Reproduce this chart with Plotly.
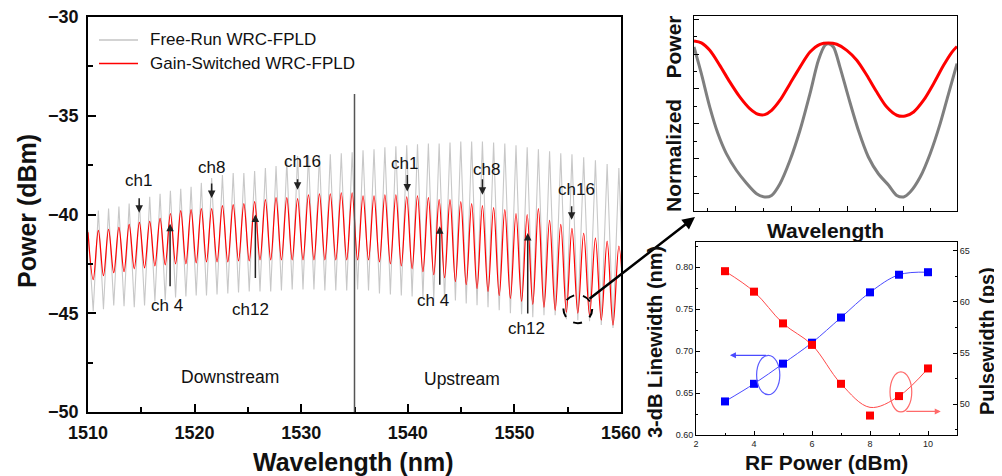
import plotly.graph_objects as go

# ---------------- main spectrum ----------------
mode_wl = [1510.97, 1511.93, 1512.90, 1513.86, 1514.82, 1515.79, 1516.76, 1517.73, 1518.70, 1519.67,
           1520.63, 1521.60, 1522.61, 1523.62, 1524.62, 1525.63, 1526.64, 1527.64, 1528.65, 1529.66,
           1530.68, 1531.71, 1532.73, 1533.76, 1534.78, 1535.80, 1536.83, 1537.85, 1538.88, 1539.90,
           1540.91, 1541.93, 1542.94, 1543.96, 1544.97, 1545.99, 1547.00, 1548.05, 1549.10, 1550.15,
           1551.20, 1552.25, 1553.30, 1554.35, 1555.40, 1556.50, 1557.60, 1558.70, 1559.80]

free_run_peak = [-39.8, -39.7, -39.6, -39.45, -39.3, -39.1, -38.95, -38.8, -38.7, -38.6,
                 -38.4, -38.15, -38.0, -37.9, -37.9, -37.8, -37.65, -37.55, -37.3, -37.05,
                 -37.0, -37.0, -36.95, -36.9, -36.85, -36.75, -36.7, -36.6, -36.55, -36.5,
                 -36.45, -36.4, -36.4, -36.35, -36.3, -36.3, -36.3, -36.35, -36.4, -36.5,
                 -36.6, -36.7, -36.8, -36.9, -36.95, -37.1, -37.25, -37.45, -37.65]
# valleys: before first mode, between modes, after last mode
free_run_valley = [-44.9, -44.8, -44.6, -44.65, -44.7, -44.6, -44.4, -44.35, -44.2, -44.15,
                   -44.1, -44.1, -44.05, -44.0, -43.95, -43.9, -43.9, -43.9, -43.85, -43.8,
                   -43.8, -43.8, -43.85, -43.85, -43.85, -43.8, -43.85, -44.0, -44.05, -44.1,
                   -44.15, -44.2, -44.3, -44.35, -44.35, -44.5, -44.6, -44.7, -44.85, -45.0,
                   -45.05, -45.2, -45.1, -45.1, -45.3, -45.35, -45.4, -45.6, -45.75, -45.8]

gain_sw_peak = [-40.8, -40.75, -40.65, -40.5, -40.4, -40.35, -40.2, -39.95, -39.8, -39.75,
                -39.7, -39.7, -39.55, -39.5, -39.45, -39.35, -39.25, -39.15, -39.15, -39.2,
                -39.0, -38.95, -38.95, -38.9, -38.9, -39.05, -39.05, -39.0, -39.0, -39.1,
                -39.05, -39.15, -39.25, -39.25, -39.35, -39.45, -39.55, -39.65, -39.75, -39.95,
                -40.0, -39.7, -40.3, -40.5, -40.7, -40.95, -41.2, -41.35, -41.6]
gain_sw_valley = [-43.3, -43.1, -42.95, -42.9, -42.75, -42.7, -42.6, -42.55, -42.5, -42.5,
                  -42.45, -42.4, -42.4, -42.4, -42.35, -42.35, -42.3, -42.3, -42.3, -42.3,
                  -42.3, -42.3, -42.3, -42.3, -42.3, -42.3, -42.3, -42.4, -42.5, -42.6,
                  -42.75, -42.9, -43.05, -43.2, -43.4, -43.55, -43.75, -43.9, -44.1, -44.25,
                  -44.4, -44.55, -44.7, -44.85, -44.95, -45.0, -45.1, -45.35, -45.6, -45.7]

edge_wl = 1510.0
free_run_edge = -40.8
gain_sw_edge = -40.9

divider_wl = 1535.0
divider_top = -33.9

# ---------------- inset: normalized power vs wavelength ----------------
inset_free_x = [0, 0.028, 0.060, 0.091, 0.123, 0.161, 0.199, 0.238, 0.269, 0.295, 0.327, 0.365,
                0.403, 0.441, 0.473, 0.498, 0.511, 0.530, 0.555, 0.587, 0.625, 0.663, 0.701,
                0.740, 0.771, 0.797, 0.822, 0.860, 0.898, 0.936, 0.968, 1.0]
inset_free_y = [0.841, 0.704, 0.533, 0.397, 0.294, 0.209, 0.144, 0.089, 0.072, 0.080, 0.140, 0.260,
                0.414, 0.602, 0.773, 0.850, 0.858, 0.841, 0.738, 0.585, 0.414, 0.277, 0.191,
                0.132, 0.080, 0.072, 0.097, 0.174, 0.294, 0.448, 0.602, 0.756]
inset_gs_x = [0, 0.028, 0.060, 0.098, 0.136, 0.174, 0.212, 0.244, 0.269, 0.295, 0.327, 0.365,
              0.403, 0.441, 0.479, 0.511, 0.543, 0.581, 0.619, 0.657, 0.695, 0.733, 0.771,
              0.803, 0.835, 0.873, 0.911, 0.949, 0.981, 1.0]
inset_gs_y = [0.872, 0.862, 0.824, 0.747, 0.662, 0.585, 0.525, 0.496, 0.494, 0.516, 0.568, 0.653,
              0.738, 0.815, 0.855, 0.862, 0.855, 0.824, 0.773, 0.696, 0.610, 0.533, 0.491,
              0.487, 0.508, 0.568, 0.653, 0.747, 0.815, 0.844]

# ---------------- inset: RF power dependence ----------------
rf_power = [3, 4, 5, 6, 7, 8, 9, 10]
linewidth_nm = [0.640, 0.661, 0.685, 0.710, 0.740, 0.770, 0.791, 0.794]
pulsewidth_ps = [63.0, 61.0, 57.9, 55.8, 52.0, 48.9, 50.8, 53.5]
pulsewidth_fit = [63.0, 61.0, 57.9, 55.8, 52.0, 49.7, 50.8, 53.5]

main_xticks = [1510, 1520, 1530, 1540, 1550, 1560]
main_yticks = [-50, -45, -40, -35, -30]


def build_path(peaks, valleys, edge):
    xs = [edge_wl, mode_wl[0] - (mode_wl[1] - mode_wl[0]) / 2]
    ys = [edge, valleys[0]]
    n = len(mode_wl)
    for i in range(n):
        xs.append(mode_wl[i])
        ys.append(peaks[i])
        if i < n - 1:
            xs.append((mode_wl[i] + mode_wl[i + 1]) / 2)
        else:
            xs.append(mode_wl[i] + (mode_wl[i] - mode_wl[i - 1]) / 2)
        ys.append(valleys[i + 1])
    return xs, ys


FONT = "Liberation Sans, Arial, sans-serif"
# the page body adds an 8px margin, so the figure is 8px smaller and shifted
OFF = 8
W, H = 1002 - OFF, 476 - OFF


def px(x):
    return (x - OFF) / W


def py(y):
    return 1 - (y - OFF) / H


fig = go.Figure()

fx, fy = build_path(free_run_peak, free_run_valley, free_run_edge)
gx, gy = build_path(gain_sw_peak, gain_sw_valley, gain_sw_edge)

fig.add_trace(go.Scatter(x=fx, y=fy, mode="lines", name="Free-Run WRC-FPLD",
                         line=dict(color="#c8c8c8", width=1.1), xaxis="x", yaxis="y",
                         showlegend=False))
fig.add_trace(go.Scatter(x=gx, y=gy, mode="lines", name="Gain-Switched WRC-FPLD",
                         line=dict(color="#ff0000", width=1.2, shape="spline", smoothing=1),
                         xaxis="x", yaxis="y", showlegend=False))

# top-right inset
fig.add_trace(go.Scatter(x=inset_free_x, y=inset_free_y, mode="lines",
                         line=dict(color="#7f7f7f", width=3, shape="spline", smoothing=0.8),
                         xaxis="x2", yaxis="y2", showlegend=False))
fig.add_trace(go.Scatter(x=inset_gs_x, y=inset_gs_y, mode="lines",
                         line=dict(color="#ff0000", width=3, shape="spline", smoothing=0.8),
                         xaxis="x2", yaxis="y2", showlegend=False))

# bottom-right inset
fig.add_trace(go.Scatter(x=rf_power, y=linewidth_nm, mode="lines+markers",
                         line=dict(color="#4a4aff", width=1, shape="spline"),
                         marker=dict(symbol="square", size=8, color="#0000ff"),
                         xaxis="x3", yaxis="y3", showlegend=False))
fig.add_trace(go.Scatter(x=rf_power, y=pulsewidth_fit, mode="lines",
                         line=dict(color="#ff4a4a", width=1, shape="spline"),
                         xaxis="x3", yaxis="y4", showlegend=False))
fig.add_trace(go.Scatter(x=rf_power, y=pulsewidth_ps, mode="markers",
                         marker=dict(symbol="square", size=8, color="#ff0000"),
                         xaxis="x3", yaxis="y4", showlegend=False))

axis_common = dict(showgrid=False, zeroline=False, showline=True, linecolor="black",
                   mirror=True, ticks="inside", tickcolor="black", automargin=False,
                   ticklabeloverflow="allow")

main_tickfont = dict(family=FONT, size=18, color="#111", weight="bold")

fig.update_layout(
    width=W, height=H, margin=dict(l=0, r=0, t=0, b=0, autoexpand=False),
    paper_bgcolor="white", plot_bgcolor="white", showlegend=False,
    font=dict(family=FONT, color="#111"),
    xaxis=dict(domain=[px(88), px(621)], range=[1510, 1560], anchor="y",
               tickvals=main_xticks, ticklen=8, tickwidth=1.5, linewidth=1.5,
               tickfont=main_tickfont, ticklabelstandoff=4,
               minor=dict(dtick=5, tick0=1510, ticklen=5, tickwidth=1.5, ticks="inside",
                          tickcolor="black"),
               **axis_common),
    yaxis=dict(domain=[py(412), py(17)], range=[-50, -30], anchor="x",
               tickvals=main_yticks, ticklen=8, tickwidth=1.5, linewidth=1.5,
               tickfont=main_tickfont, ticklabelstandoff=4,
               minor=dict(dtick=2.5, tick0=-50, ticklen=5, tickwidth=1.5, ticks="inside",
                          tickcolor="black"),
               **axis_common),
    xaxis2=dict(domain=[px(694), px(957)], range=[0, 1], anchor="y2",
                tick0=0.159, dtick=0.212, ticklen=5, showticklabels=False, linewidth=1,
                minor=dict(dtick=0.106, tick0=0.053, ticklen=3, ticks="inside", tickcolor="black"),
                **axis_common),
    yaxis2=dict(domain=[py(211), py(16)], range=[0, 1], anchor="x2",
                tick0=0.089, dtick=0.179, ticklen=5, showticklabels=False, linewidth=1,
                minor=dict(dtick=0.0895, tick0=0.089, ticklen=3, ticks="inside", tickcolor="black"),
                **axis_common),
    xaxis3=dict(domain=[px(696), px(957)], range=[2, 11], anchor="y3",
                dtick=2, tick0=2, ticklen=4, linewidth=1,
                tickfont=dict(family=FONT, size=9, color="#222"),
                minor=dict(dtick=1, ticklen=2, ticks="inside", tickcolor="black"),
                **axis_common),
    yaxis3=dict(domain=[py(435), py(242)], range=[0.60, 0.83], anchor="x3",
                dtick=0.05, tick0=0.60, tickformat=".2f", ticklen=4, linewidth=1,
                tickfont=dict(family=FONT, size=9, color="#222"),
                minor=dict(dtick=0.025, ticklen=2, ticks="inside", tickcolor="black"),
                **axis_common),
    yaxis4=dict(range=[47, 65.85], anchor="x3", overlaying="y3", side="right",
                tickvals=[50, 55, 60, 65], ticklen=4, showgrid=False, zeroline=False,
                showline=True, linecolor="black", linewidth=1, ticks="inside", automargin=False,
                ticklabeloverflow="allow",
                tickcolor="black", tickfont=dict(family=FONT, size=9, color="#222"),
                minor=dict(dtick=2.5, ticklen=2, ticks="inside", tickcolor="black")),
)

shapes = []
# divider between downstream and upstream bands
shapes.append(dict(type="line", xref="x", yref="y", x0=divider_wl, x1=divider_wl,
                   y0=-50, y1=divider_top, line=dict(color="#555555", width=1.5)))
# dashed circle
shapes.append(dict(type="circle", xref="x", yref="y", x0=1554.6, x1=1557.3, y0=-45.5, y1=-44.07,
                   line=dict(color="black", width=2, dash="dash")))
# legend samples
shapes.append(dict(type="line", xref="paper", yref="paper", x0=px(99), x1=px(138),
                   y0=py(40), y1=py(40), line=dict(color="#c4c4c4", width=1.5)))
shapes.append(dict(type="line", xref="paper", yref="paper", x0=px(99), x1=px(138),
                   y0=py(63.5), y1=py(63.5), line=dict(color="#ff0000", width=1.5)))
# ellipses in RF inset
shapes.append(dict(type="circle", xref="x3", yref="y3", x0=4.09, x1=4.89, y0=0.648, y1=0.695,
                   line=dict(color="#5a5aff", width=1.2)))
shapes.append(dict(type="circle", xref="x3", yref="y4", x0=8.69, x1=9.44, y0=49.25, y1=53.16,
                   line=dict(color="#ff6a6a", width=1.2)))
fig.update_layout(shapes=shapes)

ann = []
ann.append(dict(x=px(148), y=py(40), xref="paper", yref="paper", xanchor="left", yanchor="middle",
                text="Free-Run WRC-FPLD", showarrow=False, font=dict(size=17, color="#111")))
ann.append(dict(x=px(148), y=py(63.5), xref="paper", yref="paper", xanchor="left", yanchor="middle",
                text="Gain-Switched WRC-FPLD", showarrow=False, font=dict(size=17, color="#111")))

down_arrows = [(1514.8, -39.91, -16), (1521.6, -39.16, -16), (1529.66, -38.75, -12),
               (1539.95, -38.83, -18), (1547.0, -39.0, -17), (1555.37, -40.27, -15)]
down_labels = [("ch1", 1514.7, -38.3), ("ch8", 1521.6, -37.64), ("ch16", 1530.1, -37.33),
               ("ch1", 1539.7, -37.4), ("ch8", 1547.4, -37.73), ("ch16", 1555.8, -38.75)]
up_arrows = [(1517.7, -40.47, 64), (1525.7, -40.0, 65), (1543.0, -40.6, 60), (1551.25, -40.94, 82)]
up_labels = [("ch 4", 1517.4, -44.62), ("ch12", 1525.2, -44.8), ("ch 4", 1542.4, -44.37),
             ("ch12", 1551.1, -45.76)]

for x, y, ay in down_arrows + up_arrows:
    ann.append(dict(x=x, y=y, xref="x", yref="y", ax=0, ay=ay, text="", showarrow=True,
                    arrowhead=2, arrowsize=1, arrowwidth=1.5, arrowcolor="#222"))
for t, x, y in down_labels + up_labels:
    ann.append(dict(x=x, y=y, xref="x", yref="y", text=t, showarrow=False,
                    font=dict(size=17, color="#111")))
ann.append(dict(x=1523.3, y=-48.24, xref="x", yref="y", text="Downstream", showarrow=False,
                font=dict(size=17.5, color="#111")))
ann.append(dict(x=1545.05, y=-48.34, xref="x", yref="y", text="Upstream", showarrow=False,
                font=dict(size=17.5, color="#111")))

# connecting arrow from dashed circle to inset
ann.append(dict(x=px(695), y=py(217), xref="paper", yref="paper", ax=-107, ay=83, text="",
                showarrow=True, arrowhead=2, arrowsize=1, arrowwidth=2.5, arrowcolor="black"))

# RF inset arrows
ann.append(dict(x=3.17, y=0.695, xref="x3", yref="y3", ax=4.47, ay=0.695, axref="x3", ayref="y3",
                text="", showarrow=True, arrowhead=2, arrowsize=1, arrowwidth=1.2,
                arrowcolor="#4a4aff"))
ann.append(dict(x=10.44, y=49.3, xref="x3", yref="y4", ax=9.2, ay=49.3, axref="x3", ayref="y4",
                text="", showarrow=True, arrowhead=2, arrowsize=1, arrowwidth=1.2,
                arrowcolor="#ff6a6a"))

bold = dict(family=FONT, color="#111", weight="bold")
titles = [
    ("Power (dBm)", 27, 211, -90, 25),
    ("Wavelength (nm)", 353, 462, 0, 25),
    ("Normalized", 673, 156, -90, 21),
    ("Power", 673, 47.5, -90, 21),
    ("Wavelength", 825, 230, 0, 21),
    ("3-dB Linewidth (nm)", 655, 342, -90, 20),
    ("Pulsewidth (ps)", 987, 341, -90, 20),
    ("RF Power (dBm)", 826, 462, 0, 21),
]
for t, x, y, ang, sz in titles:
    ann.append(dict(x=px(x), y=py(y), xref="paper", yref="paper", text=t, textangle=ang,
                    showarrow=False, xanchor="center", yanchor="middle",
                    font=dict(size=sz, **bold)))

fig.update_layout(annotations=ann)

fig.write_html("out.html")
